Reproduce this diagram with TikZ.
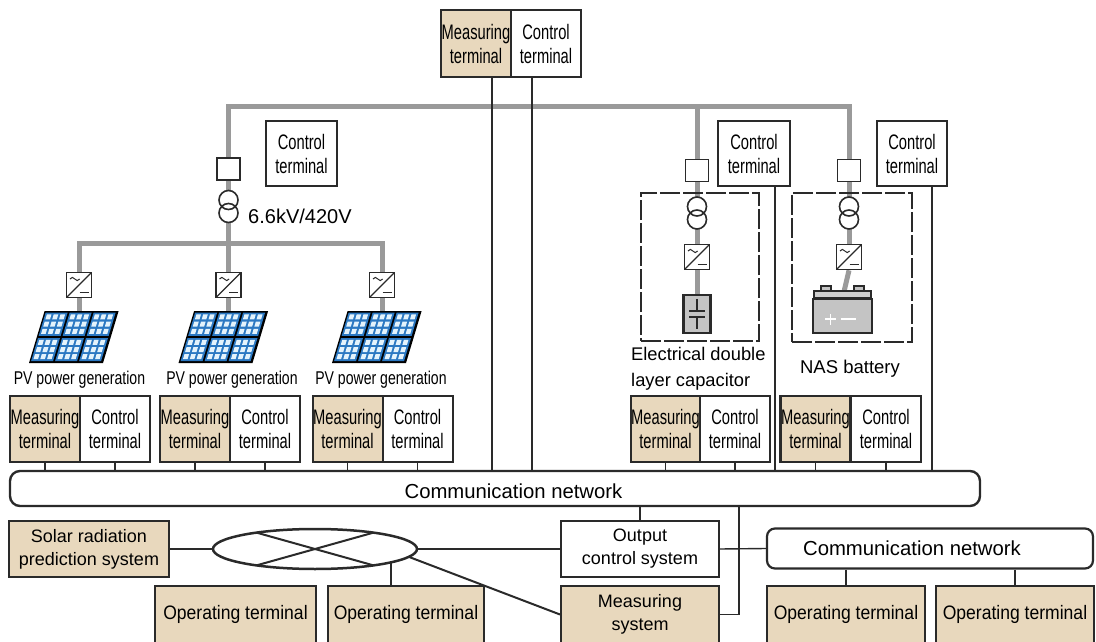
\documentclass[tikz,border=0pt]{standalone}
\usepackage{fontspec}
\setmainfont{Liberation Sans}
\newfontfamily\condf[FakeStretch=0.7]{Liberation Sans}
\newfontfamily\pvf[FakeStretch=0.76]{Liberation Sans}
\newfontfamily\opf[FakeStretch=0.9]{Liberation Sans}
\usetikzlibrary{shapes.geometric,calc,backgrounds}
\definecolor{ink}{HTML}{2A2A2A}
\definecolor{termtan}{HTML}{E8D8BD}
\definecolor{busgray}{HTML}{9A9A9A}
\definecolor{pvblue}{HTML}{2B78C2}
\definecolor{pvcell}{HTML}{E4F3FC}
\definecolor{devgray}{HTML}{C4C4C4}

% PV array: 3 x 2 slanted modules, origin at the top centre
\newcommand\drawpvarray[1]{%
  \begin{scope}[shift={(#1)}, xslant=0.3]
    \fill[black] (-37,0) rectangle (37,52);
    \foreach \i in {0,1,2}{\foreach \j in {0,1}{
      \pgfmathsetmacro\xa{-35.5+\i*24}
      \pgfmathsetmacro\ya{1.6+\j*25.4}
      \fill[pvblue] (\xa,\ya) rectangle ++(22,23.2);
      \foreach \a in {0,1,2}{\foreach \b in {0,1,2}{
        \fill[pvcell] (\xa+1.8+\a*6.8,\ya+1.8+\b*7.2) rectangle ++(4.6,5);
      }}
    }}
  \end{scope}}

\begin{document}
\begin{tikzpicture}[x=1pt,y=-1pt,
  term/.style={draw=ink, line width=2pt, inner sep=0pt, minimum width=70pt,
    minimum height=66pt, align=center, font=\condf\fontsize{21}{24}\selectfont},
  meas/.style={term, fill=termtan},
  ctrl/.style={term, fill=white},
  sysbox/.style={draw=ink, line width=2pt, inner sep=0pt, align=center,
    minimum height=56pt, font=\fontsize{18}{23}\selectfont},
  optm/.style={sysbox, fill=termtan, minimum height=57pt,
    font=\opf\fontsize{19.5}{23}\selectfont},
  bus/.style={busgray, line width=5pt},
  link/.style={ink, line width=1.4pt},
  link2/.style={ink, line width=2pt},
  trunk/.style={ink, line width=2.7pt},
  brk/.style={draw=ink, fill=white, line width=1.6pt, minimum width=23pt,
    minimum height=22pt, inner sep=0pt},
  inv/.style={draw=ink, fill=white, line width=1.6pt, minimum width=25pt,
    minimum height=25pt, inner sep=0pt,
    path picture={
      \draw[ink, line width=1.4pt] (path picture bounding box.south west)
        -- (path picture bounding box.north east);
      \draw[ink, line width=1pt]
        ([shift={(3.5pt,-6.5pt)}]path picture bounding box.north west)
        sin ++(2.4pt,1.6pt) cos ++(2.4pt,-1.6pt) sin ++(2.4pt,-1.6pt) cos ++(2.4pt,1.6pt);
      \draw[ink, line width=1.4pt]
        ([shift={(-12pt,5pt)}]path picture bounding box.south east) -- ++(9pt,0pt);
    }},
  dashbox/.style={draw=ink, line width=1.8pt, dash pattern=on 20pt off 3pt,
    inner sep=0pt},
  netbox/.style={draw=ink, line width=2.4pt, rounded corners=10pt, inner sep=0pt},
  netlabel/.style={inner sep=0pt, font=\fontsize{20.3}{24}\selectfont}
]
\useasboundingbox (0,0) rectangle (1096,642);

% ---------- upper measuring / control terminals
\node[meas, minimum height=67pt] (m0) at (476,43.5) {Measuring\\terminal};
\node[ctrl, minimum height=67pt] (c0) at (546,43.5) {Control\\terminal};

\node[ctrl, minimum width=71pt, minimum height=65pt] (k1) at (301.5,153.5) {Control\\terminal};
\node[ctrl, minimum width=72pt, minimum height=65pt, line width=2.6pt] (k2) at (754,153.5) {Control\\terminal};
\node[ctrl, minimum width=70pt, minimum height=65pt] (k3) at (912,153.5) {Control\\terminal};

% ---------- power circuit devices
\node[brk] (sq1) at (228.5,169) {};
\node[brk] (sq2) at (697,170.5) {};
\node[brk] (sq3) at (849,170.5) {};
\coordinate (tr1) at (228.5,206.5);
\coordinate (tr2) at (697,213);
\coordinate (tr3) at (849,213);
\coordinate (busR) at (849,107);
\coordinate (hub) at (228.5,243);

\node[inv] (inv1) at (79,285) {};
\node[inv] (inv2) at (228.5,285) {};
\node[inv] (inv3) at (382,285) {};
\node[inv] (inv4) at (697,257) {};
\node[inv] (inv5) at (849,257) {};

\coordinate (pv1) at (79,311);
\coordinate (pv2) at (228.5,311);
\coordinate (pv3) at (382,311);
\drawpvarray{81.6,311}
\drawpvarray{231.1,311}
\drawpvarray{384.6,311}

\node[dashbox, minimum width=118pt, minimum height=148pt] (grpA) at (700,267) {};
\node[dashbox, minimum width=120pt, minimum height=149pt] (grpB) at (852,267.5) {};

\node[draw=ink, fill=devgray, line width=2.2pt, minimum width=27pt,
  minimum height=38pt, inner sep=0pt] (cap) at (697,314) {};
\draw[ink, line width=1.3pt] ([yshift=-5pt]cap.north) -- ([yshift=3pt]cap.center);
\draw[ink, line width=1.3pt] ([yshift=-3pt]cap.center) -- ([yshift=5pt]cap.south);
\draw[ink, line width=1.5pt] ([shift={(-8pt,3pt)}]cap.center) -- ([shift={(8pt,3pt)}]cap.center);
\draw[ink, line width=1.5pt] ([shift={(-8pt,-3pt)}]cap.center) -- ([shift={(8pt,-3pt)}]cap.center);

\node[draw=ink, fill=devgray, line width=1.8pt, minimum width=59pt,
  minimum height=34pt, inner sep=0pt] (bat) at (842.5,316) {};
\draw[ink, fill=devgray!80!white, line width=1.5pt]
  ([xshift=2pt]bat.north west) rectangle ([shift={(-2pt,7pt)}]bat.north east);
\draw[ink, fill=devgray, line width=1.3pt]
  ([shift={(9pt,7pt)}]bat.north west) rectangle ([shift={(19pt,12pt)}]bat.north west);
\draw[ink, fill=devgray, line width=1.3pt]
  ([shift={(-19pt,7pt)}]bat.north east) rectangle ([shift={(-9pt,12pt)}]bat.north east);
\draw[white, line width=1.8pt]
  ([shift={(-17.5pt,-3pt)}]bat.center) -- ([shift={(-6.5pt,-3pt)}]bat.center)
  ([shift={(-12pt,2.5pt)}]bat.center) -- ([shift={(-12pt,-8.5pt)}]bat.center)
  ([shift={(-2pt,-3pt)}]bat.center) -- ([shift={(13pt,-3pt)}]bat.center);

% gray power lines under the devices
\begin{pgfonlayer}{background}
  \draw[bus] (sq1.north) |- (busR) -- (sq3.north);
  \draw[bus] (sq2.north) -- (sq2.north |- busR);
  \draw[bus] (sq1.south) -- (hub) -- (inv2.north);
  \draw[bus] (inv1.north) |- (hub) -| (inv3.north);
  \draw[bus] (inv1.south) -- (pv1);
  \draw[bus] (inv2.south) -- (pv2);
  \draw[bus] (inv3.south) -- (pv3);
  \draw[bus] (sq2.south) -- (inv4.north);
  \draw[bus] (inv4.south) -- (cap.north);
  \draw[bus] (sq3.south) -- (inv5.north);
  \draw[bus] (inv5.south) -- (bat.north);
\end{pgfonlayer}

% transformers: two interlocking windings
\foreach \t in {tr1,tr2,tr3}{
  \fill[white] ([yshift=6.5pt]\t) circle (9.5pt) ([yshift=-6.5pt]\t) circle (9.5pt);
  \draw[ink, line width=1.6pt] ([yshift=6.5pt]\t) circle (9.5pt)
    ([yshift=-6.5pt]\t) circle (9.5pt);
}

% ---------- labels
\node[anchor=west, inner sep=0pt, font=\fontsize{20}{24}\selectfont] (kvl) at (248,216) {6.6kV/420V};
\node[font=\pvf\fontsize{18.5}{21}\selectfont, inner sep=0pt] (pvl1) at (79.5,380) {PV power generation};
\node[font=\pvf\fontsize{18.5}{21}\selectfont, inner sep=0pt] (pvl2) at (232,380) {PV power generation};
\node[font=\pvf\fontsize{18.5}{21}\selectfont, inner sep=0pt] (pvl3) at (381,380) {PV power generation};
\node[anchor=west, align=left, inner sep=0pt, font=\fontsize{18.3}{26}\selectfont] (edlcl)
  at (631,369) {Electrical double\\layer capacitor};
\node[inner sep=0pt, font=\fontsize{18.5}{22}\selectfont] (nasl) at (850,369) {NAS battery};

% ---------- field terminals
\node[meas] (m1) at (45,429) {Measuring\\terminal};
\node[ctrl] (c1) at (115,429) {Control\\terminal};
\node[meas] (m2) at (195,429) {Measuring\\terminal};
\node[ctrl] (c2) at (265,429) {Control\\terminal};
\node[meas] (m3) at (347.5,429) {Measuring\\terminal};
\node[ctrl] (c3) at (417.5,429) {Control\\terminal};
\node[meas] (m4) at (665.5,429) {Measuring\\terminal};
\node[ctrl] (c4) at (735,429) {Control\\terminal};
\node[meas, line width=2.6pt] (m5) at (815.5,429) {Measuring\\terminal};
\node[ctrl, line width=2.6pt] (c5) at (886,429) {Control\\terminal};

% ---------- communication network
\node[netbox, minimum width=970pt, minimum height=35pt] (net) at (495,488.5) {};
\node[netlabel] (netl) at (513.5,491) {Communication network};

\foreach \n in {m1,c1,m2,c2,m3,c3,m4,c4,m5,c5}
  \draw[link] (\n.south) -- (\n.south |- net.north);

\coordinate (t0) at (492,0);
\coordinate (t1) at (532,0);
\coordinate (t2) at (775,0);
\coordinate (t3) at (932,0);
\draw[trunk] (t0 |- m0.south) -- (t0 |- net.north);
\draw[link] (t1 |- c0.south) -- (t1 |- net.north);
\draw[trunk] (t2 |- k2.south) -- (t2 |- net.north);
\draw[trunk] (t3 |- k3.south) -- (t3 |- net.north);

% ---------- lower systems
\node[sysbox, fill=termtan, minimum width=160pt] (solar) at (89,549) {Solar radiation\\prediction system};
\node[draw=ink, line width=2.5pt, ellipse, minimum width=204pt, minimum height=40pt,
  inner sep=0pt] (el) at (315,549) {};
\draw[ink, line width=2pt] ($(el.center)+(125:102pt and 20pt)$) -- ($(el.center)+(-55:102pt and 20pt)$);
\draw[ink, line width=2pt] ($(el.center)+(235:102pt and 20pt)$) -- ($(el.center)+(55:102pt and 20pt)$);
\node[sysbox, fill=white, minimum width=158pt] (outc) at (640,549) {Output\\control system};
\node[sysbox, fill=termtan, minimum width=158pt, minimum height=57pt] (msys) at (640,614.5) {Measuring\\system};
\node[optm, minimum width=161pt] (opA) at (235.5,614.5) {Operating terminal};
\node[optm, minimum width=156pt] (opB) at (406,614.5) {Operating terminal};
\node[optm, minimum width=158pt] (opC) at (846,614.5) {Operating terminal};
\node[optm, minimum width=158pt] (opD) at (1015,614.5) {Operating terminal};
\node[netbox, rounded corners=8pt, line width=2.2pt, minimum width=326pt,
  minimum height=40pt] (net2) at (930,548.5) {};
\node[netlabel] (net2l) at (912,548.5) {Communication network};

\draw[link] (solar.east) -- (el.west);
\draw[link] (el.east) -- (outc.west);
\draw[link] (outc.east) -- (net2.west);
\draw[link] (outc.north |- net.south) -- (outc.north);
\coordinate (tapA) at (739,0);
\draw[link] (tapA |- net.south) |- (msys.east);
\draw[link2] (el.-5) -- (msys.west);
\coordinate (elB) at ($(el.center)+(-41.8:102pt and 20pt)$);
\draw[link2] (elB) -- (elB |- opB.north);
\draw[link2] (opC.north |- net2.south) -- (opC.north);
\draw[link2] (opD.north |- net2.south) -- (opD.north);
\end{tikzpicture}
\end{document}
